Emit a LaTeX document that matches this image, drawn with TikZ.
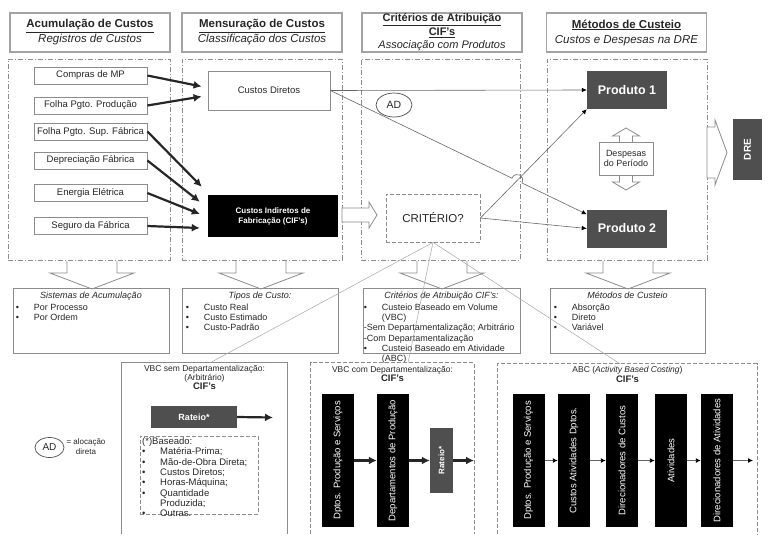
\documentclass[tikz,border=0pt]{standalone}
\usepackage{fontspec}
\setmainfont{Liberation Sans}
\usetikzlibrary{arrows.meta,shapes.geometric,calc}
\definecolor{cinzaescuro}{HTML}{4F4F4F}
\definecolor{borda}{HTML}{8C8C8C}
\newcommand{\marca}{\makebox[18pt][l]{\textbullet}}

\begin{document}
\begin{tikzpicture}[x=1pt, y=-1pt,
	every node/.style={font=\fontsize{9}{10.3}\selectfont, text=black!85, inner sep=0pt},
	cabec/.style={draw=borda!80, line width=1.1pt, fill=white, minimum width=160, minimum height=39, align=center, font=\fontsize{11.5}{15}\selectfont},
	painel/.style={draw=borda, dash pattern=on 5pt off 2pt on 1pt off 2pt, line width=.6pt},
	conta/.style={draw=borda, line width=.8pt, fill=white, minimum width=113, minimum height=17, font=\fontsize{9.5}{11}\selectfont},
	preto/.style={fill=black, text=white},
	produto/.style={fill=cinzaescuro, text=white, minimum width=80, minimum height=38, font=\bfseries\fontsize{12.5}{14}\selectfont},
	vertical/.style={fill=black, text=white, rotate=90, minimum width=133, minimum height=32, font=\fontsize{9.5}{11}\selectfont},
	blocoseta/.style={draw=borda, line width=.8pt, fill=white},
	resumo/.style={draw=borda, line width=.7pt, minimum width=156, minimum height=65},
	tracejado/.style={draw=borda, line width=.7pt, dash pattern=on 4pt off 2pt},
	quadro/.style={minimum width=165, minimum height=171},
	grossa/.style={draw=black!85, line width=2.2pt, -{Latex[length=8pt,width=8pt]}},
	fino/.style={draw=black!60, line width=.6pt, -{Latex[length=5pt,width=4.5pt,color=black]}},
	abcseta/.style={draw=black!60, line width=.9pt, -{Latex[length=5pt,width=5pt,color=black]}},
	leve/.style={draw=black!35, line width=.5pt}]

\useasboundingbox (0,0) rectangle (778,541);

% cabecalhos
\node[cabec] (h1) at (90,32.5) {\underline{\textbf{Acumulação de Custos}}\\\textit{Registros de Custos}};
\node[cabec] (h2) at (262,32.5) {\underline{\textbf{Mensuração de Custos}}\\\textit{Classificação dos Custos}};
\node[cabec, font=\fontsize{11}{13.5}\selectfont] (h3) at (442,32.5) {\underline{\textbf{Critérios de Atribuição}}\\\underline{\textbf{CIF's}}\\\textit{Associação com Produtos}};
\node[cabec] (h4) at (626.5,32.5) {\underline{\textbf{Métodos de Custeio}}\\\textit{Custos e Despesas na DRE}};

% paineis
\node[painel, minimum width=162, minimum height=201] (p1) at (89,159.5) {};
\node[painel, minimum width=160, minimum height=201] (p2) at (262,159.5) {};
\node[painel, minimum width=159, minimum height=201] (p3) at (440.5,159.5) {};
\node[painel, minimum width=160, minimum height=201] (p4) at (627,159.5) {};

% contas
\node[conta] (mp) at (90.5,75.5) {Compras de MP};
\node[conta] (fpp) at (90.5,105.5) {Folha Pgto. Produção};
\node[conta] (fps) at (90.5,131.5) {Folha Pgto. Sup. Fábrica};
\node[conta] (dep) at (90.5,160.5) {Depreciação Fábrica};
\node[conta] (ene) at (90.5,193) {Energia Elétrica};
\node[conta] (seg) at (90.5,226) {Seguro da Fábrica};

\node[conta, minimum width=122, minimum height=39] (cdir) at (269,90.5) {Custos Diretos};
\node[preto, minimum width=130, minimum height=42, align=center, font=\bfseries\fontsize{8}{10}\selectfont] (cif) at (273,216) {Custos Indiretos de\\Fabricação (CIF's)};

\draw[grossa] (mp.east) -- ([xshift=-6pt,yshift=4pt]cdir.west);
\draw[grossa] (fpp.east) -- ([xshift=-6pt,yshift=-6pt]cdir.west);
\draw[grossa] (fps.east) -- ([xshift=-6pt,yshift=8pt]cif.north west);
\draw[grossa] (dep.east) -- ([xshift=-8pt,yshift=-7pt]cif.north west);
\draw[grossa] (ene.east) -- ([xshift=-8pt,yshift=2pt]cif.west);
\draw[grossa] (seg.east) -- ([xshift=-8pt,yshift=-12pt]cif.west);

% seta CIF -> criterio
\draw[blocoseta] (342,208) -- (369,208) -- (369,202) -- (377,215) -- (369,228) -- (369,222) -- (342,222) -- cycle;
\node[draw=borda, line width=.8pt, dash pattern=on 4pt off 2pt, minimum width=94, minimum height=48, font=\fontsize{11.5}{13}\selectfont] (crit) at (433,218) {CRITÉRIO?};

% produtos
\node[produto] (prod1) at (627,90) {Produto 1};
\node[produto] (prod2) at (627,228.5) {Produto 2};
\coordinate (p2in) at ([yshift=-5pt]prod2.north west);

\draw[blocoseta] (619.5,136) -- (612.5,136) -- (626,128) -- (639.5,136) -- (632.5,136) -- (632.5,182) -- (639.5,182) -- (626,190) -- (612.5,182) -- (619.5,182) -- cycle;
\node[conta, minimum width=54, minimum height=33, align=center, font=\fontsize{9}{10.5}\selectfont] (desp) at (626,158.5) {Despesas\\do Período};

\draw[blocoseta] (707,127) -- (715,127) -- (715,120) -- (727,152.5) -- (715,185) -- (715,178) -- (707,178) -- cycle;
\node[produto, rotate=90, minimum width=61, minimum height=29, font=\bfseries\fontsize{10}{12}\selectfont] (dre) at (747.5,149.5) {DRE};

\draw[fino] (cdir.east) -- (prod1.west);
\draw[fino] (cdir.east) -- ($(cdir.east)!0.708!(p2in)$) .. controls +(3.5,-7.5) and +(3.5,-7.5) .. ($(cdir.east)!0.747!(p2in)$) -- (p2in);
\draw[fino] (crit.east) -- (prod1.south west);
\draw[fino] (crit.east) -- (prod2.west);
\node[ellipse, draw=black!70, line width=.7pt, fill=white, minimum width=36, minimum height=24, font=\fontsize{10.5}{12}\selectfont] (ad) at (394,105) {AD};

% setas para baixo
\foreach \px in {92,261,442,628}
	\draw[blocoseta] ({\px-25},261) -- ({\px-25},273) -- ({\px-42},273) -- (\px,289) -- ({\px+42},273) -- ({\px+25},273) -- ({\px+25},261);

% quadros resumo
\node[resumo] (sA) at (91,320.5) {};
\node[resumo] (sB) at (260,320.5) {};
\node[resumo, minimum width=157] (sC) at (441.5,320.5) {};
\node[resumo, minimum width=155] (sD) at (627.5,320.5) {};

\node[anchor=north, font=\itshape\fontsize{9}{10.3}\selectfont] at ([yshift=-4pt]sA.north) {Sistemas de Acumulação};
\node[anchor=north west, align=left] at ($(sA.north west)+(3,16)$) {\marca Por Processo\\\marca Por Ordem};
\node[anchor=north, font=\itshape\fontsize{9}{10.3}\selectfont] at ([yshift=-4pt]sB.north) {Tipos de Custo:};
\node[anchor=north west, align=left] at ($(sB.north west)+(4,16)$) {\marca Custo Real\\\marca Custo Estimado\\\marca Custo-Padrão};
\node[anchor=north, font=\itshape\fontsize{9}{10.3}\selectfont] at ([yshift=-4pt]sC.north) {Critérios de Atribuição CIF's:};
\node[anchor=north west, align=left] at ($(sC.north west)+(1,16)$) {\marca Custeio Baseado em Volume\\\hspace*{18pt}(VBC)\\-Sem Departamentalização; Arbitrário\\-Com Departamentalização\\\marca Custeio Baseado em Atividade\\\hspace*{18pt}(ABC)};
\node[anchor=north, font=\itshape\fontsize{9}{10.3}\selectfont] at ([yshift=-4pt]sD.north) {Métodos de Custeio};
\node[anchor=north west, align=left] at ($(sD.north west)+(4,16)$) {\marca Absorção\\\marca Direto\\\marca Variável};

% legenda
\node[ellipse, draw=black!70, line width=.7pt, minimum width=29, minimum height=20, font=\fontsize{10}{12}\selectfont] (adleg) at (49.5,447.5) {AD};
\node[align=center, font=\fontsize{8}{10}\selectfont] (adtxt) at (86,447) {= alocação\\direta};

% VBC sem departamentalizacao
\node[quadro] (vbcsem) at (204.5,448.5) {};
\draw[draw=borda, line width=.7pt] (vbcsem.south west) |- (vbcsem.north east) -- (vbcsem.south east);
\node[anchor=north, align=center, font=\fontsize{8.5}{9}\selectfont] (t1) at ([yshift=-2pt]vbcsem.north) {VBC sem Departamentalização:\\(Arbitrário)\\\textbf{\fontsize{9.5}{9}\selectfont CIF's}};
\node[produto, minimum width=86, minimum height=22, font=\bfseries\fontsize{9}{10}\selectfont] (rat1) at (194,417) {Rateio*};
\coordinate (fim1) at (273,417.5);
\draw[grossa] (rat1.east) -- (fim1);
\node[tracejado, minimum width=118, minimum height=78, anchor=north west] (base) at (140,436) {};
\node[anchor=north west, align=left, font=\fontsize{9.5}{10.3}\selectfont] (baselist) at (142,437.5) {(*)Baseado:\\\marca Matéria-Prima;\\\marca Mão-de-Obra Direta;\\\marca Custos Diretos;\\\marca Horas-Máquina;\\\marca Quantidade\\\hspace*{18pt}Produzida;\\\marca Outras.};

% VBC com departamentalizacao
\node[quadro, minimum width=163] (vbccom) at (392.5,448.5) {};
\draw[tracejado] (vbccom.south west) |- (vbccom.north east) -- (vbccom.south east);
\node[anchor=north, align=center, font=\fontsize{8.5}{9.5}\selectfont] (t2) at ([yshift=-3pt]vbccom.north) {VBC com Departamentalização:\\\textbf{\fontsize{9.5}{9.5}\selectfont CIF's}};
\node[vertical] (d1) at (338,460.5) {Dptos. Produção e Serviços};
\node[vertical] (d2) at (393,460.5) {Departamentos de Produção};
\node[produto, rotate=90, minimum width=65, minimum height=23, font=\bfseries\fontsize{8}{10}\selectfont] (rat2) at (441.5,460.5) {Rateio*};
\coordinate (fim2) at (474,460.5);
\draw[grossa] (d1) -- (d2);
\draw[grossa] (d2) -- (rat2);
\draw[grossa] (rat2) -- (fim2);

% ABC
\node[quadro, minimum width=259, minimum height=170] (abc) at (627.5,449) {};
\draw[tracejado] (abc.south west) |- (abc.north east) -- (abc.south east);
\node[anchor=north, align=center, font=\fontsize{8.5}{10.5}\selectfont] (t3) at ([yshift=-2pt]abc.north) {ABC (\textit{Activity Based Costing})\\\textbf{\fontsize{9.5}{10.5}\selectfont CIF's}};
\node[vertical] (a1) at (528.5,460.5) {Dptos. Produção e Serviços};
\node[vertical] (a2) at (574,460.5) {Custos Atividades Dptos.};
\node[vertical] (a3) at (622,460.5) {Direcionadores de Custos};
\node[vertical] (a4) at (671,460.5) {Atividades};
\node[vertical] (a5) at (717,460.5) {Direcionadores de Atividades};
\coordinate (fim3) at (753,460.5);
\draw[abcseta] (a1) -- (a2);
\draw[abcseta] (a2) -- (a3);
\draw[abcseta] (a3) -- (a4);
\draw[abcseta] (a4) -- (a5);
\draw[abcseta] (a5) -- (fim3);

% ligacoes do criterio
\draw[leve] (crit.south) -- ([xshift=5.5pt]vbcsem.north);
\draw[leve] (crit.south) -- ([xshift=15.5pt]vbccom.north);
\draw[leve] (crit.south) -- ([xshift=-7.5pt]abc.north);
\end{tikzpicture}
\end{document}
